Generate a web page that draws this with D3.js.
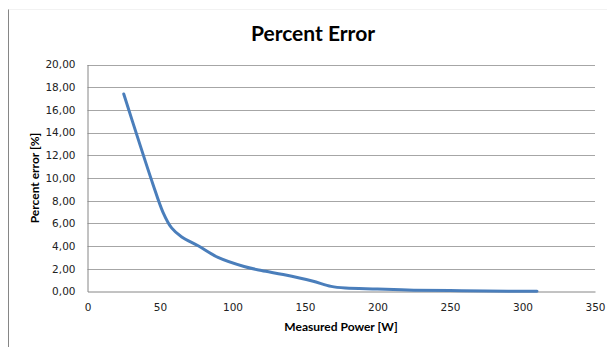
<!DOCTYPE html>
<html>
<head>
<meta charset="utf-8">
<script src="https://cdn.jsdelivr.net/npm/d3@7"></script>
<style>
  html, body { margin: 0; padding: 0; background: #fff; }
  svg { display: block; }
</style>
</head>
<body>
<svg id="chart" width="607" height="347"></svg>
<script>
// Measured power levels [W] and the percent error at each level
const powerW = [25, 35, 45, 52, 58, 65, 76, 90, 108, 120, 135, 155, 168, 178, 200, 225, 250, 275, 310];
const errorPct = [17.4, 13.4, 9.5, 7.0, 5.6, 4.8, 4.05, 3.0, 2.2, 1.85, 1.5, 0.93, 0.45, 0.3, 0.22, 0.12, 0.08, 0.04, 0.03];

const xTicks = [0, 50, 100, 150, 200, 250, 300, 350];
const yTicks = [0, 2, 4, 6, 8, 10, 12, 14, 16, 18, 20];

const titleText = "Percent Error";
const xTitle = "Measured Power [W]";
const yTitle = "Percent error [%]";

const svg = d3.select("#chart");
const W = 607, H = 347;
const plot = { left: 87.5, right: 595, top: 64.5, bottom: 291.5 };

// outer frame edges (left and top only are visible)
svg.append("line").attr("x1", 8.5).attr("x2", 8.5).attr("y1", 9).attr("y2", H)
  .attr("stroke", "#868686").attr("stroke-width", 1);
svg.append("line").attr("x1", 8.5).attr("x2", W).attr("y1", 9.5).attr("y2", 9.5)
  .attr("stroke", "#f2f2f2").attr("stroke-width", 1);

const x = d3.scaleLinear().domain([0, 350]).range([plot.left, plot.right]);
const y = d3.scaleLinear().domain([0, 20]).range([plot.bottom, plot.top]);

const fmt = v => d3.format(".2f")(v).replace(".", ",");

// horizontal gridlines
svg.append("g")
  .selectAll("line")
  .data(yTicks.filter(d => d > 0))
  .join("line")
  .attr("x1", plot.left).attr("x2", plot.right)
  .attr("y1", d => Math.round(y(d)) + 0.5).attr("y2", d => Math.round(y(d)) + 0.5)
  .attr("stroke", "#a6a6a6").attr("stroke-width", 1);

// y axis
const yAxis = svg.append("g")
  .attr("transform", `translate(${plot.left},0)`)
  .call(d3.axisLeft(y).tickValues(yTicks).tickFormat(fmt).tickSize(0).tickPadding(12));
yAxis.select(".domain").attr("stroke", "#868686");
yAxis.selectAll("text")
  .attr("font-family", "DejaVu Sans, Verdana, sans-serif")
  .attr("font-size", "10.5px")
  .attr("fill", "#222");

// x axis
const xAxis = svg.append("g")
  .attr("transform", `translate(0,${plot.bottom})`)
  .call(d3.axisBottom(x).tickValues(xTicks).tickFormat(d3.format("d")).tickSize(0).tickPadding(12));
xAxis.select(".domain").attr("stroke", "#868686");
xAxis.selectAll("text")
  .attr("font-family", "DejaVu Sans, Verdana, sans-serif")
  .attr("font-size", "10.5px")
  .attr("fill", "#222");

// error curve
const line = d3.line()
  .x((d, i) => x(powerW[i]))
  .y(d => y(d))
  .curve(d3.curveCatmullRom.alpha(0.5));

svg.append("path")
  .datum(errorPct)
  .attr("d", line)
  .attr("fill", "none")
  .attr("stroke", "#4a7ebb")
  .attr("stroke-width", 3)
  .attr("stroke-linejoin", "round")
  .attr("stroke-linecap", "round");

// titles
svg.append("text")
  .attr("x", 313).attr("y", 41)
  .attr("text-anchor", "middle")
  .attr("font-family", "Lato, 'Open Sans', sans-serif")
  .attr("font-weight", "bold")
  .attr("font-size", "21px")
  .attr("fill", "#000")
  .text(titleText);

svg.append("text")
  .attr("x", 341).attr("y", 331)
  .attr("text-anchor", "middle")
  .attr("font-family", "Lato, 'Open Sans', sans-serif")
  .attr("font-weight", "bold")
  .attr("font-size", "12px")
  .attr("fill", "#000")
  .text(xTitle);

svg.append("text")
  .attr("transform", "translate(39,178) rotate(-90)")
  .attr("text-anchor", "middle")
  .attr("font-family", "Lato, 'Open Sans', sans-serif")
  .attr("font-weight", "bold")
  .attr("font-size", "12px")
  .attr("fill", "#000")
  .text(yTitle);
</script>
</body>
</html>
